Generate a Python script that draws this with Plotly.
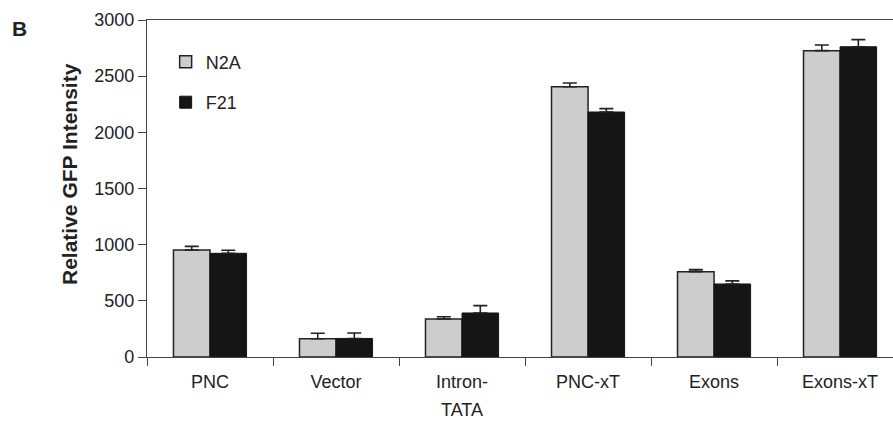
import plotly.graph_objects as go

categories = ["PNC", "Vector", "Intron-TATA", "PNC-xT", "Exons", "Exons-xT"]
tick_labels = ["PNC", "Vector", "Intron-", "PNC-xT", "Exons", "Exons-xT"]
n2a_values = [952, 163, 338, 2406, 760, 2727]
n2a_errors = [33, 48, 20, 33, 18, 50]
f21_values = [923, 165, 392, 2181, 650, 2762]
f21_errors = [27, 48, 65, 30, 28, 63]
y_ticks = [0, 500, 1000, 1500, 2000, 2500, 3000]

FONT = "Liberation Sans, Arial, sans-serif"
AX = "#444444"
L, T, W, H = 147, 20, 746, 337  # plot area in pixels

fig = go.Figure()
fig.add_trace(go.Bar(
    name="N2A", x=categories, y=n2a_values, legendgroup="a",
    marker=dict(color="#cdcdcd", line=dict(color="#222222", width=1.5)),
    error_y=dict(type="data", array=n2a_errors, arrayminus=[0]*len(n2a_errors),
                 symmetric=False, color="#222222", thickness=1.6, width=7),
))
fig.add_trace(go.Bar(
    name="F21", x=categories, y=f21_values, legendgroup="b",
    marker=dict(color="#151515", line=dict(color="#151515", width=1)),
    error_y=dict(type="data", array=f21_errors, arrayminus=[0]*len(f21_errors),
                 symmetric=False, color="#222222", thickness=1.6, width=7),
))

fig.update_layout(
    width=893, height=421,
    margin=dict(l=L, r=893 - L - W, t=T, b=421 - T - H, autoexpand=False),
    paper_bgcolor="white", plot_bgcolor="white",
    font=dict(family=FONT, size=18, color="#222222"),
    barmode="group", bargap=0.42, bargroupgap=0,
    showlegend=True,
    legend=dict(x=0.025, y=0.93, xanchor="left", yanchor="top",
                traceorder="grouped", tracegroupgap=14,
                font=dict(size=18), bgcolor="rgba(0,0,0,0)"),
    xaxis=dict(
        type="category", range=[-0.5, 5.42], automargin=False,
        tickvals=categories, ticktext=tick_labels,
        showline=True, linecolor=AX, linewidth=1.2, mirror=True,
        ticks="outside", tickson="boundaries", ticklen=8, tickcolor=AX,
        ticklabelstandoff=8,
        tickfont=dict(size=18), showgrid=False,
    ),
    yaxis=dict(
        range=[0, 3000], tickvals=y_ticks, automargin=False,
        showline=True, linecolor=AX, linewidth=1.2,
        ticks="outside", ticklen=8, tickcolor=AX,
        tickfont=dict(size=18), showgrid=False, zeroline=False,
    ),
    annotations=[
        dict(text="<b>B</b>", x=(19 - L) / W, y=1 - (28 - T) / H,
             xref="paper", yref="paper", xanchor="center", yanchor="middle",
             showarrow=False, font=dict(size=21, color="#222222")),
        dict(text="<b>Relative GFP Intensity</b>", x=(69 - L) / W, y=1 - (174 - T) / H,
             xref="paper", yref="paper", xanchor="center", yanchor="middle",
             textangle=-90, showarrow=False, font=dict(size=21, color="#222222")),
        dict(text="TATA", x=categories[2], y=1 - (410 - T) / H,
             xref="x", yref="paper", xanchor="center", yanchor="middle",
             showarrow=False, font=dict(size=18, color="#222222")),
    ],
)

fig.write_html("out.html", config={"displayModeBar": False},
               post_script="document.body.style.margin='0';document.body.style.overflow='hidden';")
